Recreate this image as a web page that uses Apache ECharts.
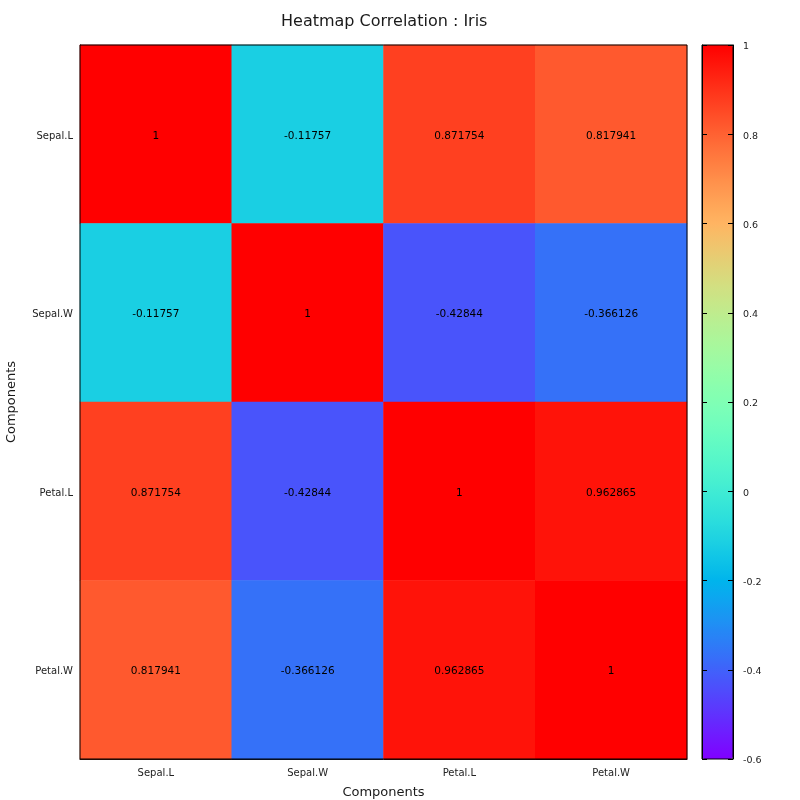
<!DOCTYPE html>
<html>
<head>
<meta charset="utf-8">
<script src="https://cdn.jsdelivr.net/npm/echarts@6/dist/echarts.min.js"></script>
<style>
html,body{margin:0;padding:0;background:#fff;}
#chart{width:800px;height:800px;}
</style>
</head>
<body>
<div id="chart"></div>
<script>
const categories = ['Sepal.L', 'Sepal.W', 'Petal.L', 'Petal.W'];
const rowSepalL = [1, -0.11757, 0.871754, 0.817941];
const rowSepalW = [-0.11757, 1, -0.42844, -0.366126];
const rowPetalL = [0.871754, -0.42844, 1, 0.962865];
const rowPetalW = [0.817941, -0.366126, 0.962865, 1];
const rows = [rowSepalL, rowSepalW, rowPetalL, rowPetalW];
const colorMin = -0.6;
const colorMax = 1;
const colorInterval = 0.2;

// gnuplot rgbformulae 33,13,10 palette
function palette(n) {
  const out = [];
  for (let i = 0; i <= n; i++) {
    const x = i / n;
    const r = Math.min(1, Math.abs(2 * x - 0.5));
    const g = Math.max(0, Math.sin(Math.PI * x));
    const b = Math.max(0, Math.cos(Math.PI / 2 * x));
    const h = v => Math.round(v * 255).toString(16).padStart(2, '0');
    out.push('#' + h(r) + h(g) + h(b));
  }
  return out;
}

const data = [];
rows.forEach((row, yi) => row.forEach((v, xi) => data.push([xi, yi, v])));

const font = 'DejaVu Sans';
const chart = echarts.init(document.getElementById('chart'));
chart.setOption({
  backgroundColor: '#fff',
  animation: false,
  textStyle: { fontFamily: font },
  title: {
    text: 'Heatmap Correlation : Iris',
    left: 276, top: 9,
    textStyle: { fontFamily: font, fontSize: 16, fontWeight: 'normal', color: '#1a1a1a' }
  },
  grid: [
    { left: 80, top: 45, width: 607, height: 714, show: true, borderColor: '#000', borderWidth: 1, z: 10, backgroundColor: 'transparent', containLabel: false, outerBoundsMode: 'none' },
    { left: 702, top: 45, width: 31, height: 714, show: true, borderColor: '#000', borderWidth: 1, z: 10, backgroundColor: 'transparent', containLabel: false, outerBoundsMode: 'none' }
  ],
  xAxis: [
    {
      type: 'category', data: categories, gridIndex: 0,
      name: 'Components', nameLocation: 'middle', nameGap: 27,
      nameTextStyle: { fontFamily: font, fontSize: 13, color: '#1a1a1a' },
      axisLine: { show: true, lineStyle: { color: '#000' } },
      axisTick: { show: false },
      axisLabel: { fontFamily: font, fontSize: 10, color: '#222', margin: 9 },
      splitLine: { show: false }, splitArea: { show: false }
    },
    { type: 'value', gridIndex: 1, show: false, min: 0, max: 1 }
  ],
  yAxis: [
    {
      type: 'category', data: categories, gridIndex: 0, inverse: true,
      name: 'Components', nameLocation: 'middle', nameGap: 62,
      nameTextStyle: { fontFamily: font, fontSize: 13, color: '#1a1a1a' },
      axisLine: { show: true, lineStyle: { color: '#000' } },
      axisTick: { show: false },
      axisLabel: { fontFamily: font, fontSize: 10, color: '#222', margin: 7,
        formatter: v => '{a|' + v + '}',
        rich: { a: { fontFamily: font, fontSize: 10, color: '#222', padding: [4, 0, 0, 0] } } },
      splitLine: { show: false }, splitArea: { show: false }
    },
    {
      type: 'value', gridIndex: 1, position: 'left', min: colorMin, max: colorMax, interval: colorInterval, z: 10,
      axisLine: { show: true, lineStyle: { color: '#000' } },
      axisTick: { show: true, inside: true, length: 5, lineStyle: { color: '#000' } },
      axisLabel: { show: false },
      splitLine: { show: false }
    },
    {
      type: 'value', gridIndex: 1, position: 'right', min: colorMin, max: colorMax, interval: colorInterval, z: 10,
      axisLine: { show: true, lineStyle: { color: '#000' } },
      axisTick: { show: true, inside: true, length: 5, lineStyle: { color: '#000' } },
      axisLabel: { show: true, fontFamily: font, fontSize: 9.5, color: '#222', margin: 10,
        formatter: v => '{a|' + String(Math.round(v * 10) / 10) + '}',
        rich: { a: { fontFamily: font, fontSize: 9.5, color: '#222', padding: [4, 0, 0, 0] } } },
      splitLine: { show: false }
    }
  ],
  visualMap: {
    type: 'continuous', min: colorMin, max: colorMax, seriesIndex: 0,
    calculable: false, orient: 'vertical',
    left: 702, top: 45, itemWidth: 31, itemHeight: 714, padding: 0,
    inRange: { color: palette(128) },
    textStyle: { color: 'transparent' }
  },
  series: [{
    type: 'heatmap', data: data, xAxisIndex: 0, yAxisIndex: 0,
    label: { show: true, fontFamily: font, fontSize: 10.5, color: '#000', offset: [0, 2], formatter: p => String(p.value[2]) },
    itemStyle: { borderWidth: 0 },
    emphasis: { disabled: true }
  }]
});
</script>
</body>
</html>
